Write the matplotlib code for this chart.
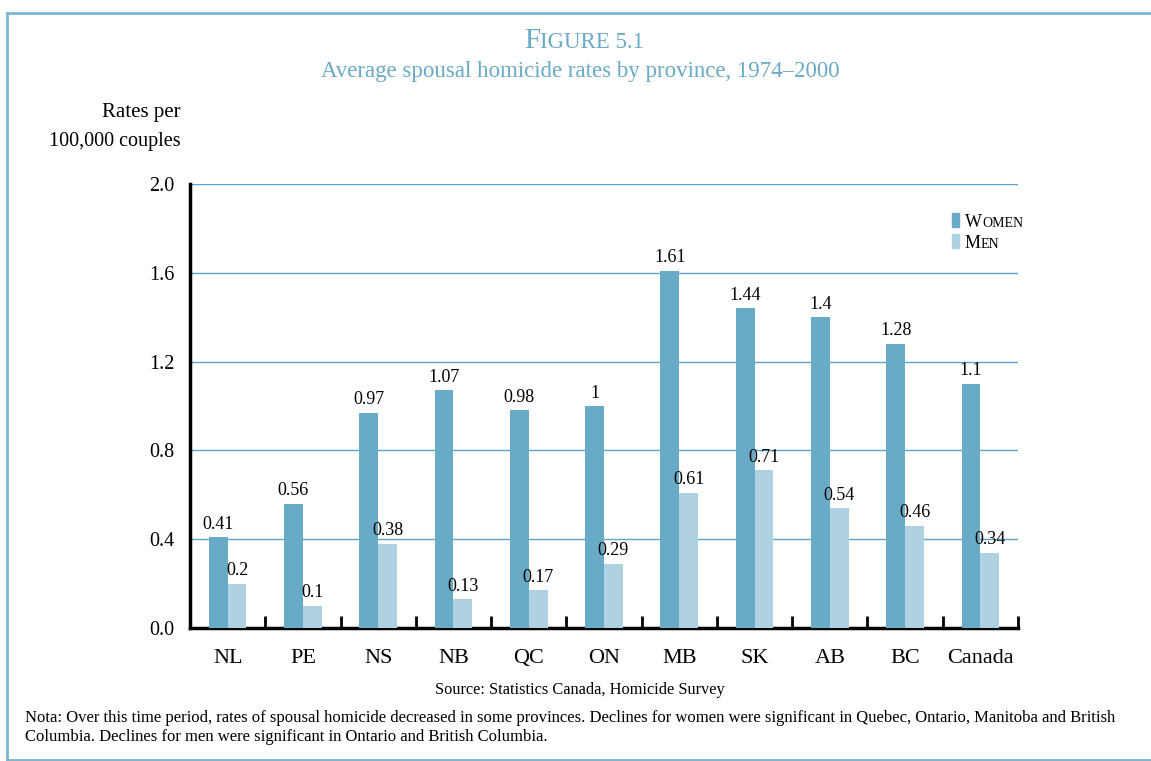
import numpy as np
import matplotlib.pyplot as plt
from matplotlib.lines import Line2D
from matplotlib.patches import Rectangle

provinces = ["NL", "PE", "NS", "NB", "QC", "ON", "MB", "SK", "AB", "BC", "Canada"]
women = [0.41, 0.56, 0.97, 1.07, 0.98, 1.0, 1.61, 1.44, 1.4, 1.28, 1.1]
men = [0.2, 0.1, 0.38, 0.13, 0.17, 0.29, 0.61, 0.71, 0.54, 0.46, 0.34]
women_labels = ["0.41", "0.56", "0.97", "1.07", "0.98", "1", "1.61", "1.44", "1.4", "1.28", "1.1"]
men_labels = ["0.2", "0.1", "0.38", "0.13", "0.17", "0.29", "0.61", "0.71", "0.54", "0.46", "0.34"]
yticks = [0.0, 0.4, 0.8, 1.2, 1.6, 2.0]

WOMEN_C = "#69abc7"
MEN_C = "#aed2e2"
TITLE_C = "#6aaac6"
GRID_C = "#5aa6ca"
FRAME_C = "#7cb7d2"

plt.rcParams['font.family'] = ['Liberation Serif', 'DejaVu Serif']

W, H = 1151, 761
fig = plt.figure(figsize=(W / 100, H / 100), dpi=100)


def fx(px):
    return px / W


def fy(py):
    return 1 - py / H


# frame around the figure (open on the right)
for (x0, y0, x1, y1) in [(7, 13, W, 13), (7, 13, 7, 760), (7, 760, W, 760)]:
    fig.add_artist(Line2D([fx(x0), fx(x1)], [fy(y0), fy(y1)], color=FRAME_C, lw=2,
                          transform=fig.transFigure))

ax = fig.add_axes([fx(190), fy(628), fx(1018) - fx(190), fy(184) - fy(628)])

x = np.arange(len(provinces))
bw = 0.25
ax.bar(x - bw / 2, women, bw, color=WOMEN_C, zorder=3)
ax.bar(x + bw / 2, men, bw, color=MEN_C, zorder=3)

for xi, v, s in zip(x, women, women_labels):
    ax.text(xi - bw / 2, v + 0.02, s, ha='center', va='bottom', fontsize=13)
for xi, v, s in zip(x, men, men_labels):
    ax.text(xi + bw / 2, v + 0.02, s, ha='center', va='bottom', fontsize=13)

ax.set_xlim(-0.5, len(provinces) - 0.5)
ax.set_ylim(0, 2.0)
ax.set_yticks(yticks)
ax.set_yticklabels([f"{t:.1f}" for t in yticks], fontsize=14.5)
ax.tick_params(axis='y', length=0, pad=11)
ax.set_xticks(x)
ax.set_xticklabels(provinces, fontsize=16)
ax.tick_params(axis='x', which='major', length=0, pad=15)
ax.set_xticks(np.arange(0.5, len(provinces)), minor=True)
ax.tick_params(axis='x', which='minor', direction='in', length=9, width=2, color='black')

for t in yticks[1:]:
    ax.axhline(t, color=GRID_C, lw=1, zorder=1)

for s in ['top', 'right']:
    ax.spines[s].set_visible(False)
ax.spines['left'].set_linewidth(2.5)
ax.spines['bottom'].set_linewidth(2.5)

# title in small caps style
fig.text(fx(540), fy(48), "F", fontsize=21, color=TITLE_C, ha='right', va='baseline')
fig.text(fx(540), fy(48), "IGURE 5.1", fontsize=16.5, color=TITLE_C, ha='left', va='baseline')
fig.text(fx(580), fy(77), "Average spousal homicide rates by province, 1974\u20132000",
         fontsize=16.5, color=TITLE_C, ha='center', va='baseline')

fig.text(fx(181), fy(117), "Rates per", fontsize=15, ha='right', va='baseline')
fig.text(fx(181), fy(146), "100,000 couples", fontsize=14.5, ha='right', va='baseline')

# legend
for py, col, first, rest in [(221, WOMEN_C, "W", "OMEN"), (242, MEN_C, "M", "EN")]:
    fig.add_artist(Rectangle((fx(952), fy(py + 6)), fx(7), 14 / H, color=col,
                             transform=fig.transFigure))
    t = fig.text(fx(965), fy(py + 6), first, fontsize=13, ha='left', va='baseline')
    fig.canvas.draw()
    bb = t.get_window_extent()
    fig.text(bb.x1 / W, fy(py + 6), rest, fontsize=10, ha='left', va='baseline')

fig.text(fx(580), fy(694), "Source: Statistics Canada, Homicide Survey", fontsize=11.8,
         ha='center', va='baseline')
fig.text(fx(25), fy(722), "Nota: Over this time period, rates of spousal homicide decreased in some provinces. "
         "Declines for women were significant in Quebec, Ontario, Manitoba and British",
         fontsize=12, ha='left', va='baseline')
fig.text(fx(25), fy(741), "Columbia. Declines for men were significant in Ontario and British Columbia.",
         fontsize=12, ha='left', va='baseline')

fig.savefig("out.png", dpi=100)
